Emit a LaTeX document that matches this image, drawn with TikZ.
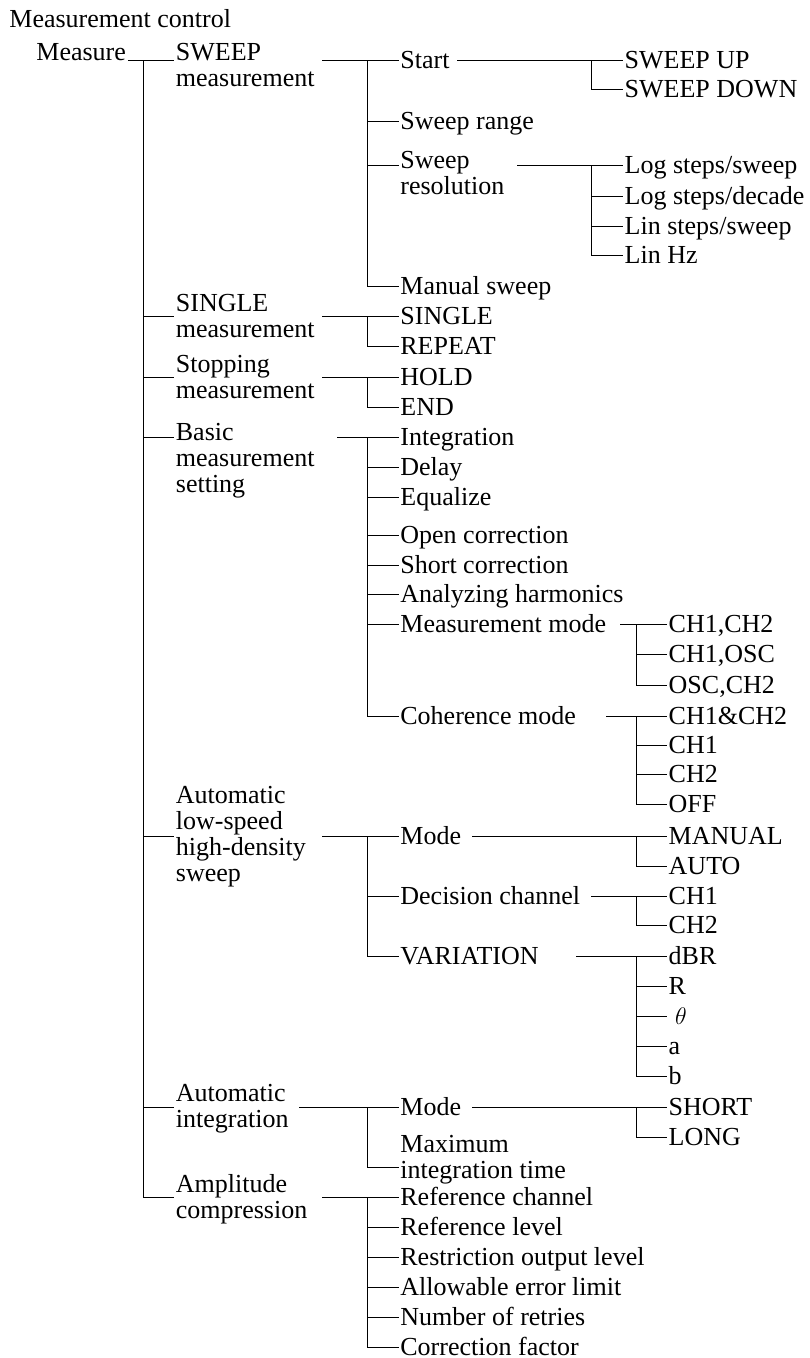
\documentclass[tikz,border=0pt]{standalone}
\usepackage{fontspec}
\setmainfont{Liberation Serif}
\tikzset{
  lbl/.style={inner sep=0.75pt, font=\fontsize{13}{13}\selectfont},
  leaf/.style={lbl, anchor=west, text height=10.5pt, text depth=2.5pt},
  grp/.style={lbl, anchor=north west, align=left},
  wire/.style={line width=0.5pt, black}
}
\begin{document}
\begin{tikzpicture}[x=0.5pt,y=0.5pt,yscale=-1,xscale=1]
\useasboundingbox (0,0) rectangle (809,1358);

\node[lbl, anchor=base west] (title) at (7.5,28) {Measurement control};
\node[lbl, anchor=base west] (measure) at (34.5,61) {Measure};

% first level
\node[grp] (sweepm) at (174,41.3) {SWEEP\\measurement};
\node[grp] (single) at (174,292.3) {SINGLE\\measurement};
\node[grp] (stop) at (174,353) {Stopping\\measurement};
\node[grp] (basic) at (174,421.3) {Basic\\measurement\\setting};
\node[grp] (autolow) at (174,784.6) {Automatic\\low-speed\\high-density\\sweep};
\node[grp] (autoint) at (174,1082) {Automatic\\integration};
\node[grp] (ampl) at (174,1172.4) {Amplitude\\compression};
\coordinate (k-sweepm) at (174,61);
\coordinate (k-single) at (174,316.7);
\coordinate (k-stop) at (174,377.5);
\coordinate (k-basic) at (174,437.5);
\coordinate (k-autolow) at (174,836);
\coordinate (k-autoint) at (174,1107);
\coordinate (k-ampl) at (174,1197);

% second level
\node[leaf] (start) at (398.5,61) {Start};
\node[leaf] (range) at (398.5,121.7) {Sweep range};
\node[grp] (sweepres) at (398.5,149.3) {Sweep\\resolution};
\coordinate (k-sweepres) at (398.5,165.7);
\node[leaf] (manual) at (398.5,286.7) {Manual sweep};
\node[leaf] (singleA) at (398.5,316.7) {SINGLE};
\node[leaf] (repeat) at (398.5,346.7) {REPEAT};
\node[leaf] (hold) at (398.5,377.5) {HOLD};
\node[leaf] (finish) at (398.5,407.5) {END};
\node[leaf] (integ) at (398.5,437.5) {Integration};
\node[leaf] (delay) at (398.5,467.5) {Delay};
\node[leaf] (equal) at (398.5,497.5) {Equalize};
\node[leaf] (open) at (398.5,535) {Open correction};
\node[leaf] (short) at (398.5,565) {Short correction};
\node[leaf] (harm) at (398.5,594.5) {Analyzing harmonics};
\node[leaf] (mmode) at (398.5,624.3) {Measurement mode};
\node[leaf] (coh) at (398.5,716) {Coherence mode};
\node[leaf] (modeA) at (398.5,836) {Mode};
\node[leaf] (decide) at (398.5,896) {Decision channel};
\node[leaf] (vary) at (398.5,956) {VARIATION};
\node[leaf] (modeB) at (398.5,1107) {Mode};
\node[grp] (maxint) at (398.5,1133.3) {Maximum\\integration time};
\coordinate (k-maxint) at (398.5,1167);
\node[leaf] (refch) at (398.5,1197) {Reference channel};
\node[leaf] (reflev) at (398.5,1227) {Reference level};
\node[leaf] (restr) at (398.5,1257) {Restriction output level};
\node[leaf] (allow) at (398.5,1287) {Allowable error limit};
\node[leaf] (retry) at (398.5,1317) {Number of retries};
\node[leaf] (corr) at (398.5,1347) {Correction factor};

% third level
\node[leaf] (up) at (622.8,61) {SWEEP UP};
\node[leaf] (down) at (622.8,90) {SWEEP DOWN};
\node[leaf] (logsw) at (622.8,165.7) {Log steps/sweep};
\node[leaf] (logdec) at (622.8,196.7) {Log steps/decade};
\node[leaf] (linsw) at (622.8,226.7) {Lin steps/sweep};
\node[leaf] (linhz) at (622.8,256) {Lin Hz};
\node[leaf] (chA) at (666.8,624.3) {CH1,CH2};
\node[leaf] (chB) at (666.8,654) {CH1,OSC};
\node[leaf] (chC) at (666.8,685) {OSC,CH2};
\node[leaf] (coA) at (666.8,716) {CH1\&CH2};
\node[leaf] (coB) at (666.8,745) {CH1};
\node[leaf] (coC) at (666.8,774.5) {CH2};
\node[leaf] (coD) at (666.8,804) {OFF};
\node[leaf] (man) at (666.8,836) {MANUAL};
\node[leaf] (auto) at (666.8,866) {AUTO};
\node[leaf] (dcA) at (666.8,896) {CH1};
\node[leaf] (dcB) at (666.8,925.5) {CH2};
\node[leaf] (vA) at (666.8,956) {dBR};
\node[leaf] (vB) at (666.8,986) {R};
\node[leaf] (vC) at (666.8,1016.5) {~$\theta$};
\node[leaf] (vD) at (666.8,1046.5) {a};
\node[leaf] (vE) at (666.8,1076.7) {b};
\node[leaf] (intA) at (666.8,1107) {SHORT};
\node[leaf] (intB) at (666.8,1137) {LONG};

% trunk
\coordinate (t-top) at (143,61);
\draw[wire] (measure.base east) -- (k-sweepm);
\draw[wire] (t-top) |- (k-ampl);
\draw[wire] (t-top |- k-single) -- (k-single);
\draw[wire] (t-top |- k-stop) -- (k-stop);
\draw[wire] (t-top |- k-basic) -- (k-basic);
\draw[wire] (t-top |- k-autolow) -- (k-autolow);
\draw[wire] (t-top |- k-autoint) -- (k-autoint);

% sweep measurement
\coordinate (o-sweepm) at (322,61);
\coordinate (b-sweepm) at (367,61);
\draw[wire] (o-sweepm) -- (start.west);
\draw[wire] (b-sweepm) |- (manual.west);
\draw[wire] (b-sweepm |- range.west) -- (range.west);
\draw[wire] (b-sweepm |- k-sweepres) -- (k-sweepres);
\coordinate (o-start) at (457,61);
\coordinate (b-start) at (591,61);
\draw[wire] (o-start) -- (up.west);
\draw[wire] (b-start) |- (down.west);
\coordinate (o-sweepres) at (517,165.7);
\coordinate (b-sweepres) at (591,165.7);
\draw[wire] (o-sweepres) -- (logsw.west);
\draw[wire] (b-sweepres) |- (linhz.west);
\draw[wire] (b-sweepres |- logdec.west) -- (logdec.west);
\draw[wire] (b-sweepres |- linsw.west) -- (linsw.west);

% single / stopping
\coordinate (o-single) at (322,316.7);
\coordinate (b-single) at (367,316.7);
\draw[wire] (o-single) -- (singleA.west);
\draw[wire] (b-single) |- (repeat.west);
\coordinate (o-stop) at (322,377.5);
\coordinate (b-stop) at (367,377.5);
\draw[wire] (o-stop) -- (hold.west);
\draw[wire] (b-stop) |- (finish.west);

% basic setting
\coordinate (o-basic) at (337,437.5);
\coordinate (b-basic) at (367,437.5);
\draw[wire] (o-basic) -- (integ.west);
\draw[wire] (b-basic) |- (coh.west);
\draw[wire] (b-basic |- delay.west) -- (delay.west);
\draw[wire] (b-basic |- equal.west) -- (equal.west);
\draw[wire] (b-basic |- open.west) -- (open.west);
\draw[wire] (b-basic |- short.west) -- (short.west);
\draw[wire] (b-basic |- harm.west) -- (harm.west);
\draw[wire] (b-basic |- mmode.west) -- (mmode.west);
\coordinate (o-mmode) at (620,624.3);
\coordinate (b-mmode) at (636,624.3);
\draw[wire] (o-mmode) -- (chA.west);
\draw[wire] (b-mmode) |- (chC.west);
\draw[wire] (b-mmode |- chB.west) -- (chB.west);
\coordinate (o-coh) at (606,716);
\coordinate (b-coh) at (636,716);
\draw[wire] (o-coh) -- (coA.west);
\draw[wire] (b-coh) |- (coD.west);
\draw[wire] (b-coh |- coB.west) -- (coB.west);
\draw[wire] (b-coh |- coC.west) -- (coC.west);

% low-speed high-density sweep
\coordinate (o-autolow) at (322,836);
\coordinate (b-autolow) at (367,836);
\draw[wire] (o-autolow) -- (modeA.west);
\draw[wire] (b-autolow) |- (vary.west);
\draw[wire] (b-autolow |- decide.west) -- (decide.west);
\coordinate (o-modeA) at (472,836);
\coordinate (b-modeA) at (636,836);
\draw[wire] (o-modeA) -- (man.west);
\draw[wire] (b-modeA) |- (auto.west);
\coordinate (o-decide) at (591,896);
\coordinate (b-decide) at (636,896);
\draw[wire] (o-decide) -- (dcA.west);
\draw[wire] (b-decide) |- (dcB.west);
\coordinate (o-vary) at (576,956);
\coordinate (b-vary) at (636,956);
\draw[wire] (o-vary) -- (vA.west);
\draw[wire] (b-vary) |- (vE.west);
\draw[wire] (b-vary |- vB.west) -- (vB.west);
\draw[wire] (b-vary |- vC.west) -- (vC.west);
\draw[wire] (b-vary |- vD.west) -- (vD.west);

% automatic integration
\coordinate (o-autoint) at (299,1107);
\coordinate (b-autoint) at (367,1107);
\draw[wire] (o-autoint) -- (modeB.west);
\draw[wire] (b-autoint) |- (k-maxint);
\coordinate (o-modeB) at (472,1107);
\coordinate (b-modeB) at (636,1107);
\draw[wire] (o-modeB) -- (intA.west);
\draw[wire] (b-modeB) |- (intB.west);

% amplitude compression
\coordinate (o-ampl) at (322,1197);
\coordinate (b-ampl) at (367,1197);
\draw[wire] (o-ampl) -- (refch.west);
\draw[wire] (b-ampl) |- (corr.west);
\draw[wire] (b-ampl |- reflev.west) -- (reflev.west);
\draw[wire] (b-ampl |- restr.west) -- (restr.west);
\draw[wire] (b-ampl |- allow.west) -- (allow.west);
\draw[wire] (b-ampl |- retry.west) -- (retry.west);
\end{tikzpicture}
\end{document}
